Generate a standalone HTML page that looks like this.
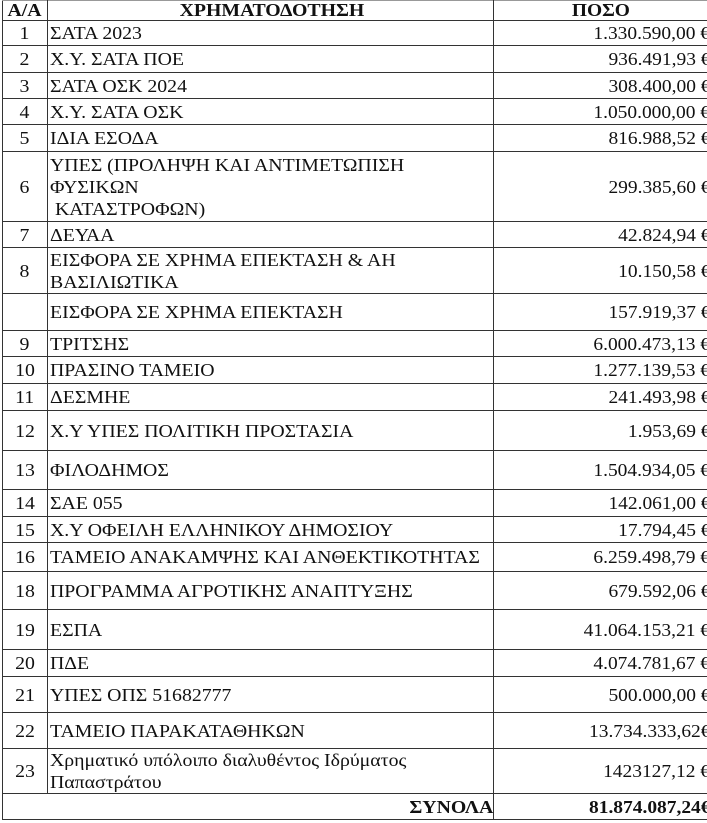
<!DOCTYPE html>
<html><head><meta charset="utf-8"><style>
body{margin:0;width:707px;height:823px;background:#fff;overflow:hidden;position:relative;font-family:"Liberation Serif","DejaVu Serif",serif;font-size:18px;color:#111}
.r{position:absolute;left:2px;width:720px;border-bottom:1px solid #333;box-sizing:border-box}
.c{position:absolute;top:0;bottom:0;display:flex;align-items:center;box-sizing:border-box}
.n{left:0;width:46px;justify-content:center;border-right:1px solid #333}
.d{left:46px;width:446px;padding-left:2px;border-right:1px solid #333}
.a{left:492px;width:216px;justify-content:flex-end}
.t{display:inline-block;transform:scaleX(1.1);transform-origin:left center;white-space:nowrap;line-height:22px}
.a .t{transform-origin:right center;transform:scaleX(1.08)}
.n .t{transform-origin:center}
b{font-weight:bold}
</style></head><body>
<div style="position:absolute;left:2px;top:0;width:1px;height:820px;background:#333"></div>
<div style="position:absolute;left:2px;top:0;width:710px;height:1px;background:#999"></div>

<div class="r" style="top:0;height:21px"><div class="c n"><b class="t">Α/Α</b></div><div class="c d" style="justify-content:center"><b class="t" style="transform-origin:center">ΧΡΗΜΑΤΟΔΟΤΗΣΗ</b></div><div class="c a" style="justify-content:center;width:213px"><b class="t" style="transform-origin:center">ΠΟΣΟ</b></div></div>
<div class="r" style="top:21px;height:25px"><div class="c n"><span class="t">1</span></div><div class="c d"><span class="t">ΣΑΤΑ 2023</span></div><div class="c a"><span class="t">1.330.590,00 €</span></div></div>
<div class="r" style="top:46px;height:27px"><div class="c n"><span class="t">2</span></div><div class="c d"><span class="t">Χ.Υ. ΣΑΤΑ ΠΟΕ</span></div><div class="c a"><span class="t">936.491,93 €</span></div></div>
<div class="r" style="top:73px;height:26px"><div class="c n"><span class="t">3</span></div><div class="c d"><span class="t">ΣΑΤΑ ΟΣΚ 2024</span></div><div class="c a"><span class="t">308.400,00 €</span></div></div>
<div class="r" style="top:99px;height:26px"><div class="c n"><span class="t">4</span></div><div class="c d"><span class="t">Χ.Υ. ΣΑΤΑ ΟΣΚ</span></div><div class="c a"><span class="t">1.050.000,00 €</span></div></div>
<div class="r" style="top:125px;height:27px"><div class="c n"><span class="t">5</span></div><div class="c d"><span class="t">ΙΔΙΑ ΕΣΟΔΑ</span></div><div class="c a"><span class="t">816.988,52 €</span></div></div>
<div class="r" style="top:152px;height:70px"><div class="c n"><span class="t">6</span></div><div class="c d"><span class="t">ΥΠΕΣ (ΠΡΟΛΗΨΗ ΚΑΙ ΑΝΤΙΜΕΤΩΠΙΣΗ<br>ΦΥΣΙΚΩΝ<br>&nbsp;ΚΑΤΑΣΤΡΟΦΩΝ)</span></div><div class="c a"><span class="t">299.385,60 €</span></div></div>
<div class="r" style="top:222px;height:26px"><div class="c n"><span class="t">7</span></div><div class="c d"><span class="t">ΔΕΥΑΑ</span></div><div class="c a"><span class="t">42.824,94 €</span></div></div>
<div class="r" style="top:248px;height:46px"><div class="c n"><span class="t">8</span></div><div class="c d"><span class="t">ΕΙΣΦΟΡΑ ΣΕ ΧΡΗΜΑ ΕΠΕΚΤΑΣΗ &amp; ΑΗ<br>ΒΑΣΙΛΙΩΤΙΚΑ</span></div><div class="c a"><span class="t">10.150,58 €</span></div></div>
<div class="r" style="top:294px;height:37px"><div class="c n"><span class="t"></span></div><div class="c d"><span class="t">ΕΙΣΦΟΡΑ ΣΕ ΧΡΗΜΑ ΕΠΕΚΤΑΣΗ</span></div><div class="c a"><span class="t">157.919,37 €</span></div></div>
<div class="r" style="top:331px;height:26px"><div class="c n"><span class="t">9</span></div><div class="c d"><span class="t">ΤΡΙΤΣΗΣ</span></div><div class="c a"><span class="t">6.000.473,13 €</span></div></div>
<div class="r" style="top:357px;height:27px"><div class="c n"><span class="t">10</span></div><div class="c d"><span class="t">ΠΡΑΣΙΝΟ ΤΑΜΕΙΟ</span></div><div class="c a"><span class="t">1.277.139,53 €</span></div></div>
<div class="r" style="top:384px;height:27px"><div class="c n"><span class="t">11</span></div><div class="c d"><span class="t">ΔΕΣΜΗΕ</span></div><div class="c a"><span class="t">241.493,98 €</span></div></div>
<div class="r" style="top:411px;height:40px"><div class="c n"><span class="t">12</span></div><div class="c d"><span class="t">Χ.Υ ΥΠΕΣ ΠΟΛΙΤΙΚΗ ΠΡΟΣΤΑΣΙΑ</span></div><div class="c a"><span class="t">1.953,69 €</span></div></div>
<div class="r" style="top:451px;height:39px"><div class="c n"><span class="t">13</span></div><div class="c d"><span class="t">ΦΙΛΟΔΗΜΟΣ</span></div><div class="c a"><span class="t">1.504.934,05 €</span></div></div>
<div class="r" style="top:490px;height:27px"><div class="c n"><span class="t">14</span></div><div class="c d"><span class="t">ΣΑΕ 055</span></div><div class="c a"><span class="t">142.061,00 €</span></div></div>
<div class="r" style="top:517px;height:26px"><div class="c n"><span class="t">15</span></div><div class="c d"><span class="t">Χ.Υ ΟΦΕΙΛΗ ΕΛΛΗΝΙΚΟΥ ΔΗΜΟΣΙΟΥ</span></div><div class="c a"><span class="t">17.794,45 €</span></div></div>
<div class="r" style="top:543px;height:29px"><div class="c n"><span class="t">16</span></div><div class="c d"><span class="t">ΤΑΜΕΙΟ ΑΝΑΚΑΜΨΗΣ ΚΑΙ ΑΝΘΕΚΤΙΚΟΤΗΤΑΣ</span></div><div class="c a"><span class="t">6.259.498,79 €</span></div></div>
<div class="r" style="top:572px;height:38px"><div class="c n"><span class="t">18</span></div><div class="c d"><span class="t">ΠΡΟΓΡΑΜΜΑ ΑΓΡΟΤΙΚΗΣ ΑΝΑΠΤΥΞΗΣ</span></div><div class="c a"><span class="t">679.592,06 €</span></div></div>
<div class="r" style="top:610px;height:40px"><div class="c n"><span class="t">19</span></div><div class="c d"><span class="t">ΕΣΠΑ</span></div><div class="c a"><span class="t">41.064.153,21 €</span></div></div>
<div class="r" style="top:650px;height:27px"><div class="c n"><span class="t">20</span></div><div class="c d"><span class="t">ΠΔΕ</span></div><div class="c a"><span class="t">4.074.781,67 €</span></div></div>
<div class="r" style="top:677px;height:36px"><div class="c n"><span class="t">21</span></div><div class="c d"><span class="t">ΥΠΕΣ ΟΠΣ 51682777</span></div><div class="c a"><span class="t">500.000,00 €</span></div></div>
<div class="r" style="top:713px;height:36px"><div class="c n"><span class="t">22</span></div><div class="c d"><span class="t">ΤΑΜΕΙΟ ΠΑΡΑΚΑΤΑΘΗΚΩΝ</span></div><div class="c a"><span class="t">13.734.333,62€</span></div></div>
<div class="r" style="top:749px;height:45px"><div class="c n"><span class="t">23</span></div><div class="c d"><span class="t">Χρηματικό υπόλοιπο διαλυθέντος Ιδρύματος<br>Παπαστράτου</span></div><div class="c a"><span class="t">1423127,12 €</span></div></div>
<div class="r" style="top:794px;height:26px"><div class="c" style="left:0;width:492px;justify-content:flex-end;border-right:1px solid #333"><b class="t" style="transform-origin:right center">ΣΥΝΟΛΑ</b></div><div class="c a"><b class="t">81.874.087,24€</b></div></div>
</body></html>
